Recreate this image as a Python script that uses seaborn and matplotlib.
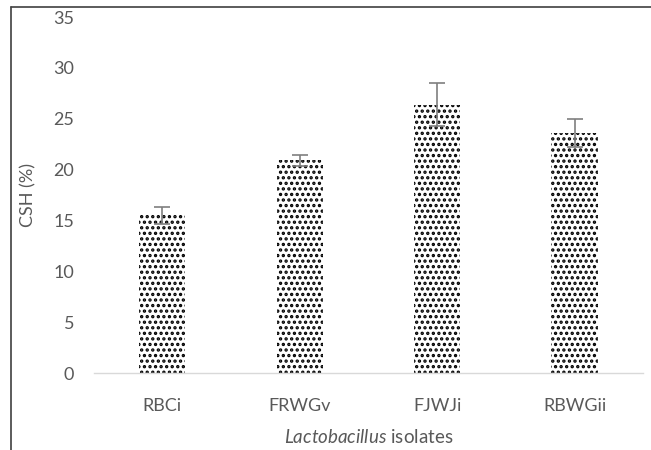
import matplotlib
matplotlib.use("Agg")
import matplotlib.pyplot as plt
import seaborn as sns
import pandas as pd
from matplotlib.lines import Line2D

categories = ["RBCi", "FRWGv", "FJWJi", "RBWGii"]
csh_values = [15.5, 20.9, 26.4, 23.6]
csh_errors = [0.8, 0.5, 2.1, 1.4]
y_ticks = [0, 5, 10, 15, 20, 25, 30, 35]

sns.set_theme(style="white")
plt.rcParams["font.family"] = ["Lato", "DejaVu Sans"]
plt.rcParams["mathtext.fontset"] = "custom"
plt.rcParams["mathtext.it"] = "Lato:italic"
plt.rcParams["mathtext.rm"] = "Lato"
plt.rcParams["hatch.linewidth"] = 1.6
plt.rcParams["hatch.color"] = "black"

text_color = "#595959"
df = pd.DataFrame({"isolate": categories, "csh": csh_values})

fig = plt.figure(figsize=(6.51, 4.50), dpi=100)
ax = fig.add_axes([0.144, 0.171, 0.844, 0.791])

sns.barplot(data=df, x="isolate", y="csh", ax=ax, color="white",
            width=0.335, errorbar=None, edgecolor="none", linewidth=0)
for p in ax.patches:
    p.set_hatch("...")
    p.set_edgecolor("black")
    p.set_linewidth(0)

ax.errorbar(range(len(categories)), csh_values, yerr=csh_errors,
            fmt="none", ecolor="#7f7f7f", elinewidth=1.2, capsize=6,
            capthick=1.2, zorder=5)

ax.set_ylim(0, 35)
ax.set_yticks(y_ticks)
ax.set_xlim(-0.5, len(categories) - 0.5)
for s in ["top", "right", "left"]:
    ax.spines[s].set_visible(False)
ax.spines["bottom"].set_color("#d9d9d9")
ax.spines["bottom"].set_linewidth(1)
ax.tick_params(axis="both", length=0, colors=text_color, labelsize=13)
ax.tick_params(axis="x", pad=18)
ax.tick_params(axis="y", pad=14)
ax.set_ylabel("CSH (%)", color=text_color, fontsize=13, labelpad=12)
ax.set_xlabel(r"$\it{Lactobacillus}$ isolates", color=text_color, fontsize=13.5, labelpad=10)

fig.add_artist(Line2D([0.017, 1.0], [0.984, 0.984], color="#404040", lw=1.2,
                      transform=fig.transFigure))
fig.add_artist(Line2D([0.017, 0.017], [0.0, 0.984], color="#404040", lw=1.2,
                      transform=fig.transFigure))

fig.savefig("out.png", dpi=100, facecolor="white")
